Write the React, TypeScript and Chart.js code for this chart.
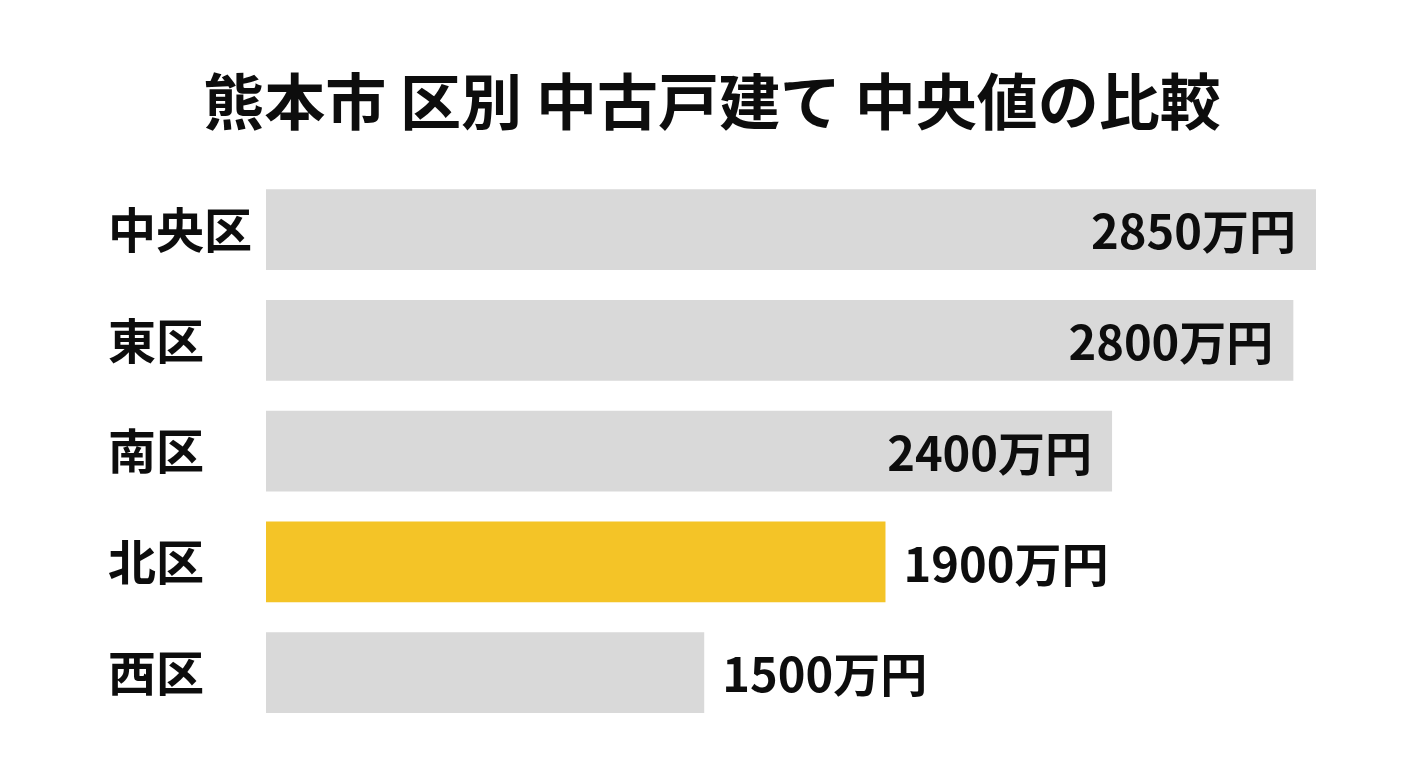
import React, { useEffect, useRef } from "react";
import { Chart, registerables } from "chart.js";

Chart.register(...registerables);

const titleText = "熊本市 区別 中古戸建て 中央値の比較";
const categories = ["中央区", "東区", "南区", "北区", "西区"];
const values = [2850, 2800, 2400, 1900, 1500];
const highlighted = ["北区"];
const unit = "万円";

const FONT = '"Noto Sans CJK JP", "Noto Sans", sans-serif';
const GRAY = "#d9d9d9";
const YELLOW = "#f4c427";
const INK = "#0d0d0d";

const valueLabels = {
  id: "valueLabels",
  afterDatasetsDraw(chart: any) {
    const ctx = chart.ctx;
    const meta = chart.getDatasetMeta(0);
    const max = Math.max(...values);
    ctx.save();
    ctx.font = `bold 47px ${FONT}`;
    ctx.fillStyle = INK;
    ctx.textBaseline = "middle";
    meta.data.forEach((bar: any, i: number) => {
      const v = values[i];
      const text = `${v}${unit}`;
      if (v >= max * 0.8) {
        ctx.textAlign = "right";
        ctx.fillText(text, bar.x - 20, bar.y + 2);
      } else {
        ctx.textAlign = "left";
        ctx.fillText(text, bar.x + 18, bar.y + 2);
      }
    });
    ctx.restore();
  },
};

export default function App() {
  const ref = useRef<HTMLCanvasElement | null>(null);

  useEffect(() => {
    document.body.style.margin = "0";
    document.body.style.background = "#ffffff";
    if (!ref.current) return;
    const chart = new Chart(ref.current, {
      type: "bar",
      data: {
        labels: categories,
        datasets: [
          {
            data: values,
            backgroundColor: categories.map((c) => (highlighted.includes(c) ? YELLOW : GRAY)),
            borderWidth: 0,
            barPercentage: 0.73,
            categoryPercentage: 1,
          },
        ],
      },
      options: {
        indexAxis: "y",
        animation: false,
        responsive: true,
        maintainAspectRatio: false,
        layout: { padding: { left: 108, right: 92, bottom: 40, top: 0 } },
        plugins: {
          legend: { display: false },
          tooltip: { enabled: false },
          title: {
            display: true,
            text: titleText,
            color: INK,
            font: { family: FONT, size: 61, weight: "bold", lineHeight: 1.2 },
            padding: { top: 65, bottom: 36 },
          },
        },
        scales: {
          x: {
            display: false,
            min: 533,
            max: 2850,
          },
          y: {
            grid: { display: false },
            border: { display: false },
            ticks: {
              color: INK,
              font: { family: FONT, size: 48, weight: "bold" },
              crossAlign: "far",
              padding: 0,
            },
            afterFit(scale: any) {
              scale.width = 158;
            },
          },
        },
      },
      plugins: [valueLabels],
    } as any);
    return () => chart.destroy();
  }, []);

  return (
    <div style={{ position: "fixed", left: 0, top: 0, width: 1408, height: 768, background: "#ffffff" }}>
      <canvas ref={ref} />
    </div>
  );
}
